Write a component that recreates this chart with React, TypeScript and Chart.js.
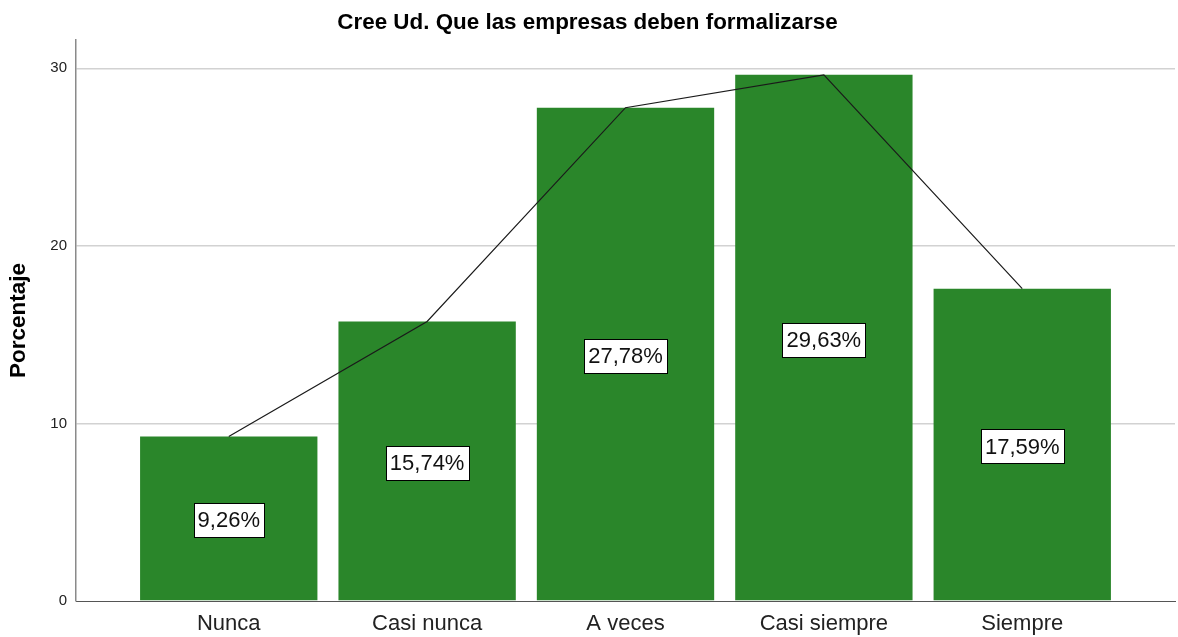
import React, { useEffect, useRef } from "react";
import { Chart, registerables } from "chart.js";

Chart.register(...registerables);

const chartTitle = "Cree Ud. Que las empresas deben formalizarse";
const yAxisTitle = "Porcentaje";
const categories = ["Nunca", "Casi nunca", "A veces", "Casi siempre", "Siempre"];
const percentages = [9.26, 15.74, 27.78, 29.63, 17.59];
const yTicks = [0, 10, 20, 30];

const FONT = "'Liberation Sans', Arial, sans-serif";

const labelPlugin = {
  id: "barLabels",
  afterDatasetsDraw(chart: any) {
    const ctx = chart.ctx;
    const idx = chart.data.datasets.findIndex((d: any) => d.type === "bar");
    const meta = chart.getDatasetMeta(idx);
    ctx.save();
    ctx.font = `22px ${FONT}`;
    ctx.textAlign = "center";
    ctx.textBaseline = "middle";
    meta.data.forEach((el: any, i: number) => {
      const v = percentages[i];
      const text = v.toFixed(2).replace(".", ",") + "%";
      const tw = ctx.measureText(text).width;
      const w = Math.round(tw + 8);
      const h = 34;
      const cx = el.x;
      const cy = (el.y + el.base) / 2 + 2;
      const x0 = Math.round(cx - w / 2) + 0.5;
      const y0 = Math.round(cy - h / 2) + 0.5;
      ctx.fillStyle = "#ffffff";
      ctx.fillRect(x0, y0, w, h);
      ctx.strokeStyle = "#000000";
      ctx.lineWidth = 1;
      ctx.strokeRect(x0, y0, w, h);
      ctx.fillStyle = "#111111";
      ctx.fillText(text, cx, cy + 1);
    });
    ctx.restore();
  },
};

export default function App() {
  const ref = useRef<HTMLCanvasElement | null>(null);

  useEffect(() => {
    if (!ref.current) return;
    const points = categories.map((_, i) => ({ x: i, y: percentages[i] }));
    const chart = new Chart(ref.current, {
      type: "bar",
      data: {
        datasets: [
          {
            type: "line",
            data: points,
            borderColor: "#1a1a1a",
            borderWidth: 1.2,
            pointRadius: 0,
            tension: 0,
            order: 0,
          } as any,
          {
            type: "bar",
            data: points,
            backgroundColor: "#2a862a",
            borderWidth: 0,
            categoryPercentage: 1,
            barPercentage: 0.894,
            order: 1,
          } as any,
        ],
      },
      plugins: [labelPlugin],
      options: {
        animation: false,
        responsive: true,
        maintainAspectRatio: false,
        layout: { padding: { left: 0, right: 3, top: 0, bottom: 0 } },
        plugins: {
          legend: { display: false },
          tooltip: { enabled: false },
          title: {
            display: true,
            text: chartTitle,
            color: "#000000",
            font: { family: FONT, size: 22.4, weight: "bold" },
            padding: { top: 9, bottom: 4 },
          },
        },
        scales: {
          x: {
            type: "linear",
            offset: false,
            min: -0.77,
            max: categories.length - 1 + 0.77,
            afterBuildTicks: (scale: any) => {
              scale.ticks = categories.map((_, i) => ({ value: i }));
            },
            afterFit: (scale: any) => {
              scale.height = 36;
            },
            grid: { display: false, drawTicks: false, offset: false },
            border: { display: true, color: "#555555", width: 1 },
            ticks: {
              autoSkip: false,
              maxRotation: 0,
              padding: 10,
              color: "#222222",
              font: { family: FONT, size: 22 },
              callback: (v: any) => categories[v as number] ?? "",
            },
          },
          y: {
            type: "linear",
            min: 0,
            max: 31.6,
            afterBuildTicks: (scale: any) => {
              scale.ticks = yTicks.map((v) => ({ value: v }));
            },
            afterFit: (scale: any) => {
              scale.width = 76;
            },
            grid: {
              color: (c: any) => (c.tick && c.tick.value === 0 ? "rgba(0,0,0,0)" : "#d2d2d2"),
              lineWidth: 1.5,
              drawTicks: false,
            },
            border: { display: true, color: "#8a8a8a", width: 1.5 },
            ticks: {
              padding: 9,
              color: "#222222",
              font: { family: FONT, size: 15 },
            },
            title: {
              display: true,
              text: yAxisTitle,
              color: "#000000",
              font: { family: FONT, size: 22.5, weight: "bold" },
              padding: { top: 5, bottom: 0 },
            },
          },
        },
      },
    });
    return () => chart.destroy();
  }, []);

  return (
    <div style={{ position: "fixed", left: 0, top: 0, width: 1178, height: 637, background: "#ffffff" }}>
      <canvas ref={ref} />
    </div>
  );
}
